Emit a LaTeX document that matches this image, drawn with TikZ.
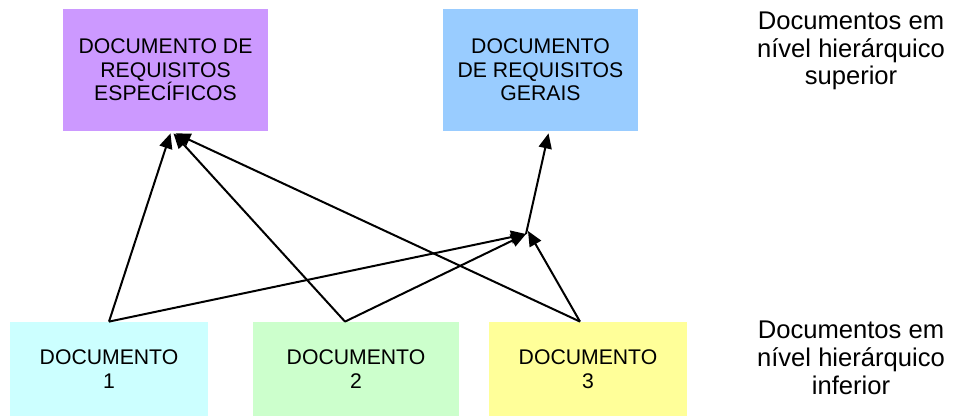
\documentclass[tikz,border=0pt]{standalone}
\usepackage{fontspec}
\setmainfont{Liberation Sans}
\usetikzlibrary{arrows.meta}
\definecolor{lilas}{HTML}{CC99FF}
\definecolor{celeste}{HTML}{99CCFF}
\definecolor{ciano}{HTML}{CCFFFF}
\definecolor{verdinho}{HTML}{CCFFCC}
\definecolor{amarelo}{HTML}{FFFF99}
\tikzset{
  x = 0.5pt, % one unit = one pixel of the sketch
  y = -0.5pt, % y grows downwards, like the sketch
  docbox/.style = { % 'document' box style
    rectangle,
    fill = #1, % argument = colour
    align = center,
    inner sep = 0pt, % no 'padding' b/w text and edge
    minimum height = 47pt,
    font = \fontsize{10.6}{11.8}\selectfont,
  },
  topbox/.style = { % upper boxes are taller
    docbox = #1,
    minimum height = 61pt,
  },
  levellabel/.style = { % text on the right
    align = center,
    font = \fontsize{12.8}{13.9}\selectfont,
  },
  ref/.style = { % arrow 'refers to'
    line width = 1pt,
    -{Triangle[length=7.5pt,width=6.5pt]},
  },
}

\begin{document}
\begin{tikzpicture}
    \useasboundingbox (0,0) rectangle (962,417); % page size of the sketch
    % upper level
    \node[topbox=lilas, minimum width=102.5pt] (especif) at (165.5,70) {DOCUMENTO DE\\REQUISITOS\\ESPECÍFICOS};
    \node[topbox=celeste, minimum width=97.5pt] (gerais) at (540.5,70) {DOCUMENTO\\DE REQUISITOS\\GERAIS};
    % lower level
    \node[docbox=ciano, minimum width=99pt] (doc1) at (109,369) {DOCUMENTO\\1};
    \node[docbox=verdinho, minimum width=103pt] (doc2) at (356,369) {DOCUMENTO\\2};
    \node[docbox=amarelo, minimum width=99pt] (doc3) at (588,369) {DOCUMENTO\\3};
    % level captions
    \node[levellabel] (sup) at (851,51) {Documentos em\\nível hierárquico\\superior};
    \node[levellabel] (inf) at (851,358) {Documentos em\\nível hierárquico\\inferior};
    % where the general references meet
    \coordinate (junc) at (526,234);
    % references to the specific document
    \draw[ref] (doc1.north) -- ([xshift=2.5pt,yshift=-1pt]especif.south);
    \draw[ref] ([xshift=-5.5pt]doc2.north) -- ([xshift=4pt,yshift=-1pt]especif.south);
    \draw[ref] ([xshift=-4pt]doc3.north) -- ([xshift=5pt,yshift=-1pt]especif.south);
    % references to the general document
    \draw[ref] (doc1.north) -- (junc);
    \draw[ref] ([xshift=-5.5pt]doc2.north) -- (junc);
    \draw[ref] ([xshift=-4pt]doc3.north) -- ([xshift=1pt,yshift=1.5pt]junc);
    \draw[ref] (junc) -- ([xshift=4pt,yshift=-1pt]gerais.south);
\end{tikzpicture}
\end{document}
